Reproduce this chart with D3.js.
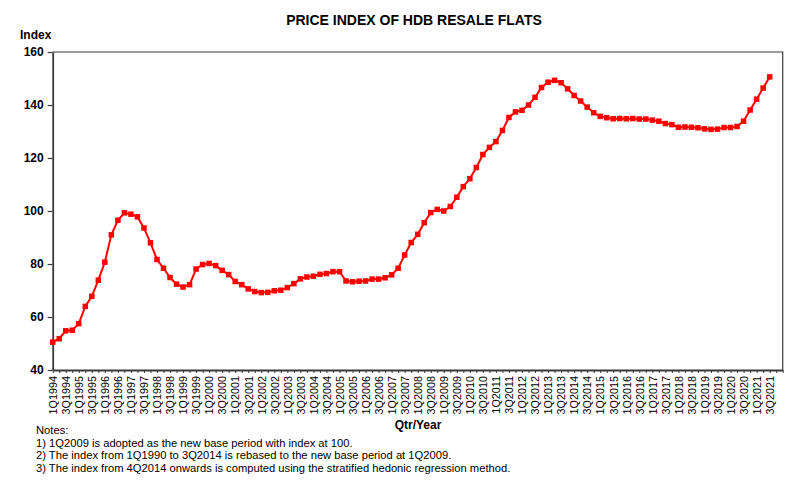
<!DOCTYPE html>
<html>
<head>
<meta charset="utf-8">
<script src="https://cdn.jsdelivr.net/npm/d3@7"></script>
<style>
  html, body { margin: 0; padding: 0; background: #fff; }
  svg { display: block; font-family: "Liberation Sans", Arial, sans-serif; }
</style>
</head>
<body>
<svg id="chart" width="800" height="485"></svg>
<script>
const years = d3.range(1994, 2022);
const quarters = [];
years.forEach(y => [1, 2, 3, 4].forEach(q => { if (!(y === 2021 && q === 4)) quarters.push(q + "Q" + y); }));

const indexValues = [
  50.5, 51.8, 54.8, 55.0,
  57.5, 64.0, 67.8, 73.9,
  80.7, 91.0, 96.5, 99.3,
  98.8, 97.8, 93.6, 88.0,
  81.7, 78.4, 74.9, 72.4,
  71.3, 72.2, 78.1, 79.8,
  80.2, 79.4, 77.6, 76.0,
  73.4, 72.2, 70.6, 69.6,
  69.2, 69.3, 69.9, 70.1,
  71.1, 72.6, 74.4, 75.1,
  75.4, 76.1, 76.4, 77.1,
  77.1, 73.6, 73.3, 73.5,
  73.6, 74.3, 74.3, 74.8,
  75.9, 78.4, 83.4, 88.1,
  91.2, 95.6, 99.4, 100.6,
  100.0, 101.7, 105.2, 109.2,
  112.2, 116.4, 121.3, 124.0,
  126.2, 130.4, 135.3, 137.4,
  138.0, 140.0, 142.9, 146.6,
  148.6, 149.3, 148.4, 146.1,
  143.6, 141.5, 139.2, 137.1,
  135.7, 135.2, 134.8, 134.9,
  134.8, 134.9, 134.7, 134.7,
  134.3, 133.9, 133.0, 132.6,
  131.6, 131.7, 131.6, 131.4,
  131.0, 130.8, 130.9, 131.5,
  131.5, 131.9, 133.9, 138.1,
  142.2, 146.4, 150.6
];
const yTicks = [40, 60, 80, 100, 120, 140, 160];
const notes = [
  "Notes:",
  "1) 1Q2009 is adopted as the new base period with index at 100.",
  "2) The index from 1Q1990 to 3Q2014 is rebased to the new base period at 1Q2009.",
  "3) The index from 4Q2014 onwards is computed using the stratified hedonic regression method."
];

const data = quarters.map((q, i) => ({ q, i, v: indexValues[i] }));

const svg = d3.select("#chart");
const L = 52.7, R = 782.7, T = 52, B = 370;
const nSlots = 112; // axis runs two quarters past the last point

const x = d3.scaleLinear().domain([0, nSlots]).range([L, R]);
const y = d3.scaleLinear().domain([40, 160]).range([B, T]);
const axisColor = "#3a3a3a";

// frame (top and right)
svg.append("path")
  .attr("d", `M${L},${T}H${R}V${B}`)
  .attr("fill", "none").attr("stroke", axisColor).attr("stroke-width", 1.2);

// y axis
const yAxis = d3.axisLeft(y).tickValues(yTicks).tickSize(5).tickSizeOuter(0).tickPadding(4);
const gy = svg.append("g").attr("transform", `translate(${L},0)`).call(yAxis);
gy.select(".domain").attr("stroke", axisColor).attr("stroke-width", 1.8);
gy.selectAll(".tick line").attr("stroke", axisColor).attr("stroke-width", 1.2);
gy.selectAll(".tick text")
  .attr("font-size", 12).attr("font-weight", "bold").attr("fill", "#000")
  .attr("font-family", "Liberation Sans, Arial, sans-serif");

// x axis with a tick per quarter, label every two quarters
const tickIdx = d3.range(0, nSlots + 1);
const xAxis = d3.axisBottom(x).tickValues(tickIdx).tickSize(3).tickSizeOuter(0)
  .tickFormat(i => (i % 2 === 0 && i < quarters.length) ? quarters[i] : "");
const gx = svg.append("g").attr("transform", `translate(0,${B})`).call(xAxis);
gx.select(".domain").attr("stroke", axisColor).attr("stroke-width", 1.8);
gx.selectAll(".tick line").attr("stroke", axisColor).attr("stroke-width", 1);
gx.selectAll(".tick text")
  .attr("font-size", 10.8).attr("fill", "#000")
  .attr("font-family", "Liberation Sans, Arial, sans-serif")
  .attr("transform", "rotate(-90)")
  .attr("text-anchor", "end")
  .attr("x", -6).attr("y", 0).attr("dy", "0.35em");

// line
const line = d3.line().x(d => x(d.i)).y(d => y(d.v));
svg.append("path").datum(data)
  .attr("d", line).attr("fill", "none")
  .attr("stroke", "#ff0000").attr("stroke-width", 2);

// markers
const m = 5.5;
svg.append("g").selectAll("rect").data(data).join("rect")
  .attr("x", d => x(d.i) - m / 2).attr("y", d => y(d.v) - m / 2)
  .attr("width", m).attr("height", m).attr("fill", "#ff0000");

// title
svg.append("text").attr("x", 414).attr("y", 25).attr("text-anchor", "middle")
  .attr("font-size", 14).attr("font-weight", "bold").text("PRICE INDEX OF HDB RESALE FLATS");

svg.append("text").attr("x", 20).attr("y", 39)
  .attr("font-size", 12).attr("font-weight", "bold").text("Index");

svg.append("text").attr("x", 418).attr("y", 429).attr("text-anchor", "middle")
  .attr("font-size", 12).attr("font-weight", "bold").text("Qtr/Year");

svg.append("g").selectAll("text").data(notes).join("text")
  .attr("x", 36).attr("y", (d, i) => 434 + i * 12.7)
  .attr("font-size", 11.2).text(d => d);
</script>
</body>
</html>
